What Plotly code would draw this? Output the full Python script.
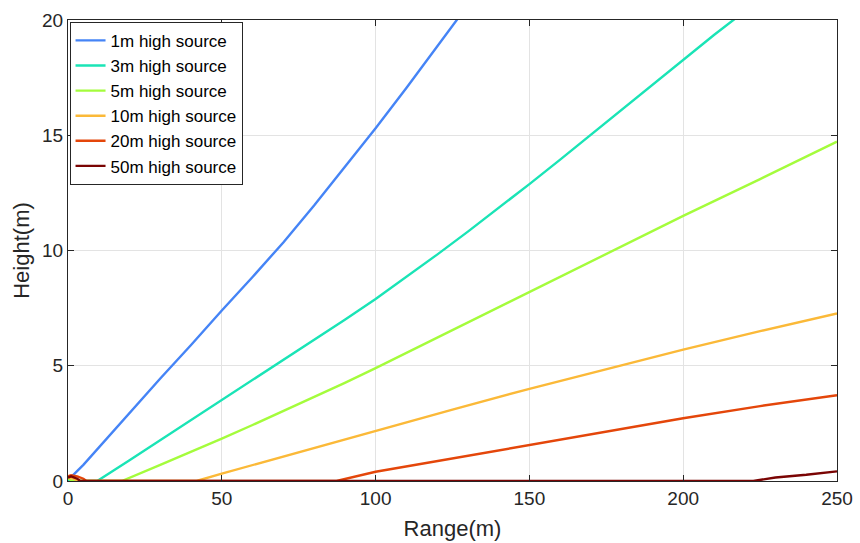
import plotly.graph_objects as go

# Data (Range in m, Height in m)
series_names = ["1m high source", "3m high source", "5m high source",
                "10m high source", "20m high source", "50m high source"]
colors = ["#4584F6", "#1AE4B6", "#A4FC3C", "#FBB938", "#E4460A", "#7A0403"]

range_1m = [0, 0.5, 5, 10, 20, 30, 40, 50, 60, 70, 80, 90, 100, 110, 120, 126.4, 130]
height_1m = [0.15, 0.1, 0.7, 1.45, 2.95, 4.45, 5.9, 7.4, 8.85, 10.35, 11.95, 13.6, 15.3, 17.05, 18.85, 20.0, 20.65]

range_3m = [0, 9.5, 20, 30, 40, 50, 60, 70, 80, 90, 100, 110, 120, 130, 140, 150,
            160, 170, 180, 190, 200, 210, 216.8, 220]
height_3m = [0, 0, 0.9, 1.77, 2.63, 3.5, 4.36, 5.23, 6.1, 7.0, 7.9, 8.85, 9.82, 10.82, 11.84, 12.88,
             13.94, 15.02, 16.1, 17.2, 18.3, 19.35, 20.05, 20.4]

range_5m = [0, 0.5, 1, 17.5, 30, 40, 50, 60, 70, 80, 90, 100, 125, 150, 175, 200, 225, 250]
height_5m = [0.1, 0.1, 0, 0, 0.7, 1.26, 1.84, 2.43, 3.03, 3.64, 4.26, 4.9, 6.55, 8.22, 9.88, 11.5, 13.1, 14.72]

range_10m = [0, 2, 3, 41.8, 50, 75, 100, 125, 150, 175, 200, 225, 250]
height_10m = [0.15, 0.1, 0, 0, 0.32, 1.25, 2.17, 3.1, 4.0, 4.85, 5.7, 6.5, 7.27]

range_20m = [0, 1, 3, 5, 6, 87.3, 100, 125, 150, 175, 200, 225, 250]
height_20m = [0.2, 0.25, 0.2, 0.1, 0, 0, 0.4, 0.98, 1.55, 2.15, 2.72, 3.25, 3.72]

range_50m = [0, 1, 3, 4, 222.8, 230, 240, 250]
height_50m = [0.15, 0.2, 0.1, 0, 0, 0.15, 0.27, 0.42]

ranges = [range_1m, range_3m, range_5m, range_10m, range_20m, range_50m]
heights = [height_1m, height_3m, height_5m, height_10m, height_20m, height_50m]

x_ticks = [0, 50, 100, 150, 200, 250]
y_ticks = [0, 5, 10, 15, 20]

FONT = "Liberation Sans, Arial, Helvetica"

fig = go.Figure()
for name, c, xs, ys in zip(series_names, colors, ranges, heights):
    fig.add_trace(go.Scatter(x=xs, y=ys, mode="lines", name=name,
                             line=dict(color=c, width=2.4)))

axis_common = dict(
    showline=True, mirror="ticks", linecolor="#262626", linewidth=1,
    ticks="inside", ticklen=6, tickcolor="#262626",
    showgrid=True, gridcolor="#E3E3E3", gridwidth=1,
    zeroline=False, automargin=False,
    tickfont=dict(family=FONT, size=19, color="#262626"),
    title_font=dict(family=FONT, size=22, color="#262626"),
)

fig.update_xaxes(range=[0, 250], tickvals=x_ticks, title_text="Range(m)",
                 title_standoff=12, **axis_common)
fig.update_yaxes(range=[0, 20], tickvals=y_ticks, title_text="Height(m)",
                 title_standoff=6, **axis_common)

fig.update_layout(
    width=860, height=543,
    margin=dict(l=68, r=23, t=20, b=62),
    plot_bgcolor="white", paper_bgcolor="white",
    showlegend=True,
    legend=dict(
        x=0.002, y=0.996, xanchor="left", yanchor="top",
        bgcolor="white", bordercolor="#262626", borderwidth=1,
        font=dict(family=FONT, size=17, color="#000000"),
        itemwidth=30, tracegroupgap=0,
    ),
)

fig.write_html("out.html", config={"displayModeBar": False},
               post_script="document.body.style.margin='0';document.body.style.padding='0';")
